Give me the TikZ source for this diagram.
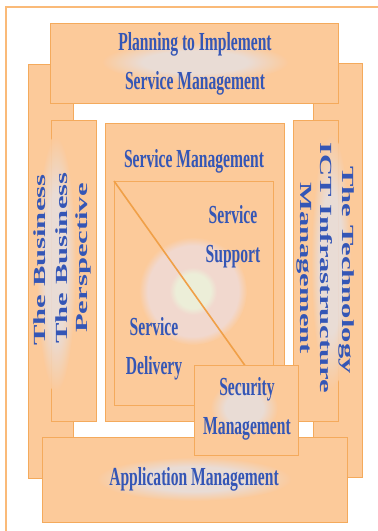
\documentclass[tikz,border=0pt]{standalone}
\usepackage{fontspec}
\setmainfont{Liberation Serif}
\newfontfamily\condfont{Liberation Serif}[FakeStretch=0.6]
\newfontfamily\widefont{Liberation Serif}[FakeStretch=1.8]
\usepackage{tikz}

\definecolor{boxfill}{RGB}{252,202,154}
\definecolor{boxline}{RGB}{244,170,92}
\definecolor{diagcol}{RGB}{240,160,72}
\definecolor{framecol}{RGB}{250,186,120}
\definecolor{txtblue}{RGB}{52,86,182}
\definecolor{glowgrey}{RGB}{232,222,220}
\definecolor{glowpink}{RGB}{241,216,206}
\definecolor{glowcore}{RGB}{236,238,216}

\pgfdeclareradialshading{discglow}{\pgfpoint{0bp}{0bp}}{%
  color(0bp)=(glowcore); color(8bp)=(glowcore); color(11bp)=(glowpink);
  color(21bp)=(glowpink); color(25bp)=(boxfill); color(50bp)=(boxfill)}
\pgfdeclareradialshading{softglow}{\pgfpoint{0bp}{0bp}}{%
  color(0bp)=(glowgrey); color(14bp)=(glowgrey);
  color(25bp)=(boxfill); color(50bp)=(boxfill)}

\tikzset{
  itilbox/.style={draw=boxline, line width=0.8pt, fill=boxfill},
  glow/.style={shading=softglow, opacity=0.9},
  flat/.style={inner sep=0pt, text=txtblue, align=center,
    font=\condfont\bfseries\fontsize{26}{39}\selectfont},
  side/.style={inner sep=0pt, text=txtblue, align=center,
    font=\widefont\bfseries\fontsize{17}{20}\selectfont}
}

\begin{document}
\begin{tikzpicture}[x=1pt,y=1pt,yscale=-1,xscale=1]
\useasboundingbox (0,0) rectangle (378,531);
\fill[white] (0,0) rectangle (378,531);

%Frame
\draw [framecol, line width=2pt] (6,531) -- (6,7) -- (378,7) ;

%Outer columns
\draw [itilbox] (28,64) rectangle (73,478) ;
\draw [itilbox] (313,63) rectangle (362,477) ;

%Top and bottom bars
\draw [itilbox] (50,23) rectangle (338,103) ;
\draw [itilbox] (42,437) rectangle (347,522) ;

%Inner columns
\draw [itilbox] (51,120) rectangle (96,421) ;
\draw [itilbox] (105,123) rectangle (284,421) ;
\draw [itilbox] (293,120) rectangle (338,421) ;

%Service square
\coordinate (sqTL) at (114,181);
\coordinate (sqBR) at (273,405);
\draw [itilbox] (sqTL) rectangle (sqBR) ;

%Glows
\shade [glow] (195,62) ellipse (94 and 20) ;
\shade [glow] (194,479) ellipse (98 and 22) ;
\shade [glow] (56,264) ellipse (20 and 128) ;
\shade [glow] (331,262) ellipse (20 and 128) ;
\shade [shading=discglow] (193,291) circle (54) ;

%Diagonal
\draw [diagcol, line width=1.6pt] (sqTL) -- (sqBR) ;

%Security box
\draw [itilbox] (194,365) rectangle (298,455) ;
\shade [glow] (244,408) ellipse (34 and 28) ;

% Text Node
\node [flat] (plan) at (195,64) {Planning to Implement\\Service Management};
\node [flat] (svcmgmt) at (194,161) {Service Management};
\node [flat] (support) at (233,237) {Service\\Support};
\node [flat] (delivery) at (154,349) {Service\\Delivery};
\node [flat] (security) at (247,409) {Security\\Management};
\node [flat] (appmgmt) at (194,479) {Application Management};
\node [side, rotate=90] (business) at (40,260) {The Business};
\node [side, rotate=90] (bizpersp) at (73,258) {The Business\\Perspective};
\node [side, rotate=-90] (ictmgmt) at (315,268) {ICT Infrastructure\\Management};
\node [side, rotate=-90] (technology) at (347,270) {The Technology};

\end{tikzpicture}
\end{document}
